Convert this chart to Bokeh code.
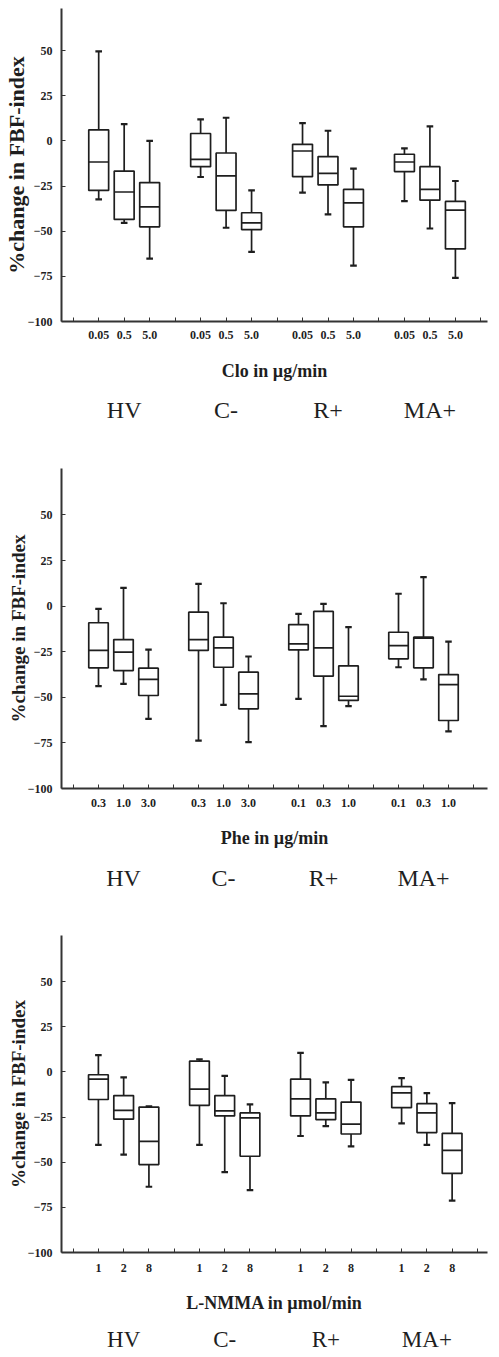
import numpy as np
from bokeh.plotting import figure
from bokeh.layouts import column
from bokeh.models import ColumnDataSource, FixedTicker, LinearAxis, Range1d
from bokeh.embed import file_html
from bokeh.resources import INLINE

# ---------------- data ----------------
groups = ["HV", "C-", "R+", "MA+"]

# Panel 1: Clonidine
clo_doses = ["0.05", "0.5", "5.0"] * 4
clo_whi_hi = [49.6, 9.3, 0.0, 11.9, 12.8, -27.4, 9.8, 5.6, -15.4, -4.1, 8.0, -22.2]
clo_q3 = [6.1, -16.7, -23.1, 4.1, -6.7, -39.8, -1.9, -8.7, -26.9, -7.4, -14.3, -33.5]
clo_med = [-11.7, -28.3, -36.5, -10.2, -19.4, -45.4, -5.6, -18.0, -34.3, -11.7, -26.9, -38.3]
clo_q1 = [-27.4, -43.5, -47.6, -14.3, -38.5, -49.1, -19.8, -24.4, -47.6, -17.0, -32.8, -59.8]
clo_whi_lo = [-32.4, -45.4, -65.2, -20.0, -48.1, -61.5, -28.7, -40.7, -69.1, -33.3, -48.5, -75.9]

# Panel 2: Phenylephrine
phe_doses = ["0.3", "1.0", "3.0", "0.3", "1.0", "3.0", "0.1", "0.3", "1.0", "0.1", "0.3", "1.0"]
phe_whi_hi = [-1.5, 10.0, -23.8, 12.2, 1.6, -27.6, -4.2, 1.3, -11.5, 6.8, 15.9, -19.4]
phe_q3 = [-9.1, -18.3, -34.0, -3.3, -17.0, -36.2, -10.1, -2.9, -32.7, -14.3, -17.0, -37.5]
phe_med = [-24.3, -25.2, -40.2, -18.3, -22.9, -48.1, -20.7, -22.9, -49.4, -21.6, -17.6, -43.0]
phe_q1 = [-33.8, -35.3, -49.0, -24.3, -33.5, -56.3, -24.0, -38.4, -51.7, -28.9, -33.8, -62.7]
phe_whi_lo = [-43.9, -42.6, -61.8, -73.7, -54.1, -74.6, -50.8, -65.8, -54.8, -33.5, -40.2, -68.7]

# Panel 3: L-NMMA
lnm_doses = ["1", "2", "8"] * 4
lnm_whi_hi = [9.3, -3.1, -19.1, 6.9, -2.2, -18.0, 10.5, -5.8, -4.4, -3.5, -11.8, -17.3]
lnm_q3 = [-1.6, -13.1, -19.5, 6.0, -13.1, -22.7, -4.0, -14.9, -16.7, -8.2, -17.6, -34.0]
lnm_med = [-4.0, -21.3, -38.5, -9.5, -21.6, -25.5, -14.9, -22.7, -28.9, -11.6, -22.7, -43.5]
lnm_q1 = [-15.3, -26.2, -51.3, -18.5, -24.4, -46.7, -24.4, -26.4, -34.4, -19.8, -33.6, -56.2]
lnm_whi_lo = [-40.4, -45.8, -63.6, -40.4, -55.5, -65.5, -35.5, -30.0, -41.3, -28.5, -40.4, -71.3]

y_ticks = [-100, -75, -50, -25, 0, 25, 50]

INK = "#1e1e1e"
SERIF = "Liberation Serif"
FIG_W = 499


def make_panel(doses, whi_hi, q3, med, q1, whi_lo, xlabel, x_range, y_top,
               height, top_border, bottom_border, left_border, right_border,
               ylab_size, tick_standoff, xlab_standoff, grp_standoff, grp_size):
    n_per = 3
    xs = np.array([g * (n_per + 1) + d + 1 for g in range(len(groups)) for d in range(n_per)], dtype=float)
    box_w = 0.78
    cap = 0.13
    src = ColumnDataSource(dict(
        x=xs, hi=whi_hi, q3=q3, med=med, q1=q1, lo=whi_lo,
        xl=xs - box_w / 2, xr=xs + box_w / 2, cl=xs - cap, cr=xs + cap,
    ))
    p = figure(width=FIG_W, height=height, output_backend="svg", toolbar_location=None,
               x_range=Range1d(*x_range), y_range=Range1d(-100, y_top),
               min_border_left=left_border, min_border_right=right_border,
               min_border_top=top_border, min_border_bottom=bottom_border)
    p.outline_line_color = None
    p.grid.visible = False
    p.background_fill_color = "white"
    p.border_fill_color = "white"

    lw = 1.7
    p.segment("x", "q3", "x", "hi", source=src, line_color=INK, line_width=lw)
    p.segment("x", "q1", "x", "lo", source=src, line_color=INK, line_width=lw)
    p.segment("cl", "hi", "cr", "hi", source=src, line_color=INK, line_width=2.2)
    p.segment("cl", "lo", "cr", "lo", source=src, line_color=INK, line_width=2.2)
    p.vbar(x="x", width=box_w, top="q3", bottom="q1", source=src,
           fill_color="white", line_color=INK, line_width=lw)
    p.segment("xl", "med", "xr", "med", source=src, line_color=INK, line_width=lw)

    # y axis
    ya = p.yaxis[0]
    ya.ticker = FixedTicker(ticks=y_ticks)
    ya.axis_label = "%change in FBF-index"
    ya.axis_label_text_font = SERIF
    ya.axis_label_text_font_style = "bold"
    ya.axis_label_text_font_size = f"{ylab_size}px"
    ya.axis_label_text_color = INK
    ya.axis_label_standoff = -4
    ya.major_label_text_font = SERIF
    ya.major_label_text_font_style = "bold"
    ya.major_label_text_font_size = "12px"
    ya.major_label_text_color = INK
    ya.major_label_standoff = 9
    ya.major_tick_in = 4
    ya.major_tick_out = 0
    ya.minor_tick_line_color = None
    ya.axis_line_width = 2
    ya.axis_line_color = "#333333"
    ya.major_tick_line_color = "#333333"

    # x axis (doses)
    all_ticks = list(range(0, 4 * (n_per + 1) + 1))
    overrides = {t: "" for t in all_ticks}
    for xv, lab in zip(xs, doses):
        overrides[int(xv)] = lab
    xa = p.xaxis[0]
    xa.ticker = FixedTicker(ticks=all_ticks)
    xa.major_label_overrides = overrides
    xa.axis_label = xlabel
    xa.axis_label_text_font = SERIF
    xa.axis_label_text_font_style = "bold"
    xa.axis_label_text_font_size = "18px"
    xa.axis_label_text_color = INK
    xa.axis_label_standoff = xlab_standoff
    xa.major_label_text_font = SERIF
    xa.major_label_text_font_style = "bold"
    xa.major_label_text_font_size = "12px"
    xa.major_label_text_color = INK
    xa.major_label_standoff = tick_standoff
    xa.major_tick_in = 4
    xa.major_tick_out = 0
    xa.minor_tick_line_color = None
    xa.axis_line_width = 2
    xa.axis_line_color = "#333333"
    xa.major_tick_line_color = "#333333"

    # group labels axis
    gx = [g * (n_per + 1) + 2 for g in range(len(groups))]
    ga = LinearAxis(ticker=FixedTicker(ticks=gx),
                    major_label_overrides={t: name for t, name in zip(gx, groups)})
    ga.axis_line_color = None
    ga.major_tick_line_color = None
    ga.minor_tick_line_color = None
    ga.major_tick_in = 0
    ga.major_tick_out = 0
    ga.major_label_text_font = SERIF
    ga.major_label_text_font_size = f"{grp_size}px"
    ga.major_label_text_color = INK
    ga.major_label_standoff = grp_standoff
    p.add_layout(ga, "below")
    return p


p1 = make_panel(clo_doses, clo_whi_hi, clo_q3, clo_med, clo_q1, clo_whi_lo,
                "Clo in \u00b5g/min", (-0.46, 16.26), 73.3,
                height=440, top_border=8, bottom_border=119, left_border=61, right_border=0,
                ylab_size=22, tick_standoff=9, xlab_standoff=19, grp_standoff=13, grp_size=24)
p2 = make_panel(phe_doses, phe_whi_hi, phe_q3, phe_med, phe_q1, phe_whi_lo,
                "Phe in \u00b5g/min", (-0.48, 16.56), 75.5,
                height=456, top_border=28, bottom_border=108, left_border=61, right_border=12,
                ylab_size=19, tick_standoff=10, xlab_standoff=18, grp_standoff=14, grp_size=24)
p3 = make_panel(lnm_doses, lnm_whi_hi, lnm_q3, lnm_med, lnm_q1, lnm_whi_lo,
                "L-NMMA in \u00b5mol/min", (-0.46, 16.4), 75.5,
                height=458, top_border=39, bottom_border=99, left_border=59, right_border=0,
                ylab_size=19, tick_standoff=11, xlab_standoff=18, grp_standoff=11, grp_size=23)

layout = column(p1, p2, p3)
open("out.html", "w").write(file_html(layout, INLINE))
